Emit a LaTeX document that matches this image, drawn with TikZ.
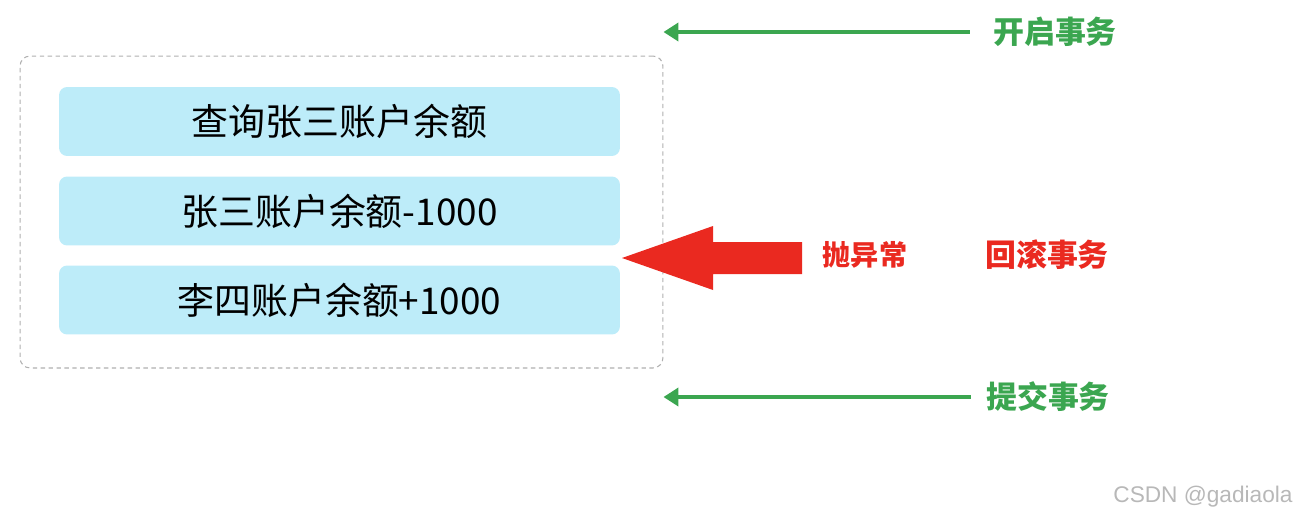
\documentclass[tikz,border=0pt]{standalone}
\usepackage{fontspec}
\setmainfont{Noto Sans CJK SC}
\newfontfamily\markfont{Liberation Sans}
\usepackage{tikz}
\usetikzlibrary{positioning, arrows.meta}
\usepackage{xcolor}
\definecolor{stepcyan}{RGB}{189, 236, 249}
\definecolor{txgreen}{RGB}{59, 166, 80}
\definecolor{errred}{RGB}{234, 41, 32}
\definecolor{framegray}{RGB}{175, 175, 175}

\tikzset{
  stepbox/.style={fill=stepcyan, rounded corners=0.16cm, minimum width=11.22cm,
    minimum height=1.38cm, inner sep=0pt, font=\fontsize{21}{25}\selectfont},
  txframe/.style={draw=framegray, line width=0.6pt, dash pattern=on 2.5pt off 2pt,
    rounded corners=0.2cm, minimum width=12.86cm, minimum height=6.24cm, inner sep=0pt},
  txlabel/.style={font=\fontsize{17.6}{21}\selectfont\bfseries, text=txgreen, inner sep=0pt},
  errlabel/.style={font=\fontsize{17.6}{21}\selectfont\bfseries, text=errred, inner sep=0pt},
  txarrow/.style={draw=txgreen, line width=2.8pt, -{Triangle[length=0.3cm, width=0.36cm]}}
}

\begin{document}
\begin{tikzpicture}[x=0.02cm, y=-0.02cm]
        \useasboundingbox (0,0) rectangle (1296,518);

        % ---- TRANSACTION FRAME ----
        \node[txframe] (txbox) at (341.5,212) {};

        % steps
        \node[stepbox] (query)  at (339.5,121.5) {查询张三账户余额};
        \node[stepbox] (debit)  at (339.5,211)   {张三账户余额-1000};
        \node[stepbox] (credit) at (339.5,300)   {李四账户余额+1000};

        % ---- BEGIN / COMMIT ----
        \node[txlabel] (begintx)  at (1055,32)  {开启事务};
        \node[txlabel] (committx) at (1048,397) {提交事务};
        \draw[txarrow] ([xshift=-0.46cm]begintx.west) -- (txbox.east |- begintx.west);
        \draw[txarrow] ([xshift=-0.3cm]committx.west) -- (txbox.east |- committx.west);

        % ---- EXCEPTION / ROLLBACK ----
        \node[errlabel, font=\fontsize{16}{19}\selectfont\bfseries] (throwerr) at (865,255) {抛异常};
        \node[errlabel] (rollback) at (1047,255) {回滚事务};
        \fill[errred] (802,242) -- (713,242) -- (713,226) -- (622,258)
          -- (713,290) -- (713,274) -- (802,274) -- cycle;

        % watermark
        \node[font=\markfont\fontsize{12.9}{15}\selectfont, text=black!28] (mark) at (1203,497) {CSDN @gadiaola};
      \end{tikzpicture}
\end{document}
